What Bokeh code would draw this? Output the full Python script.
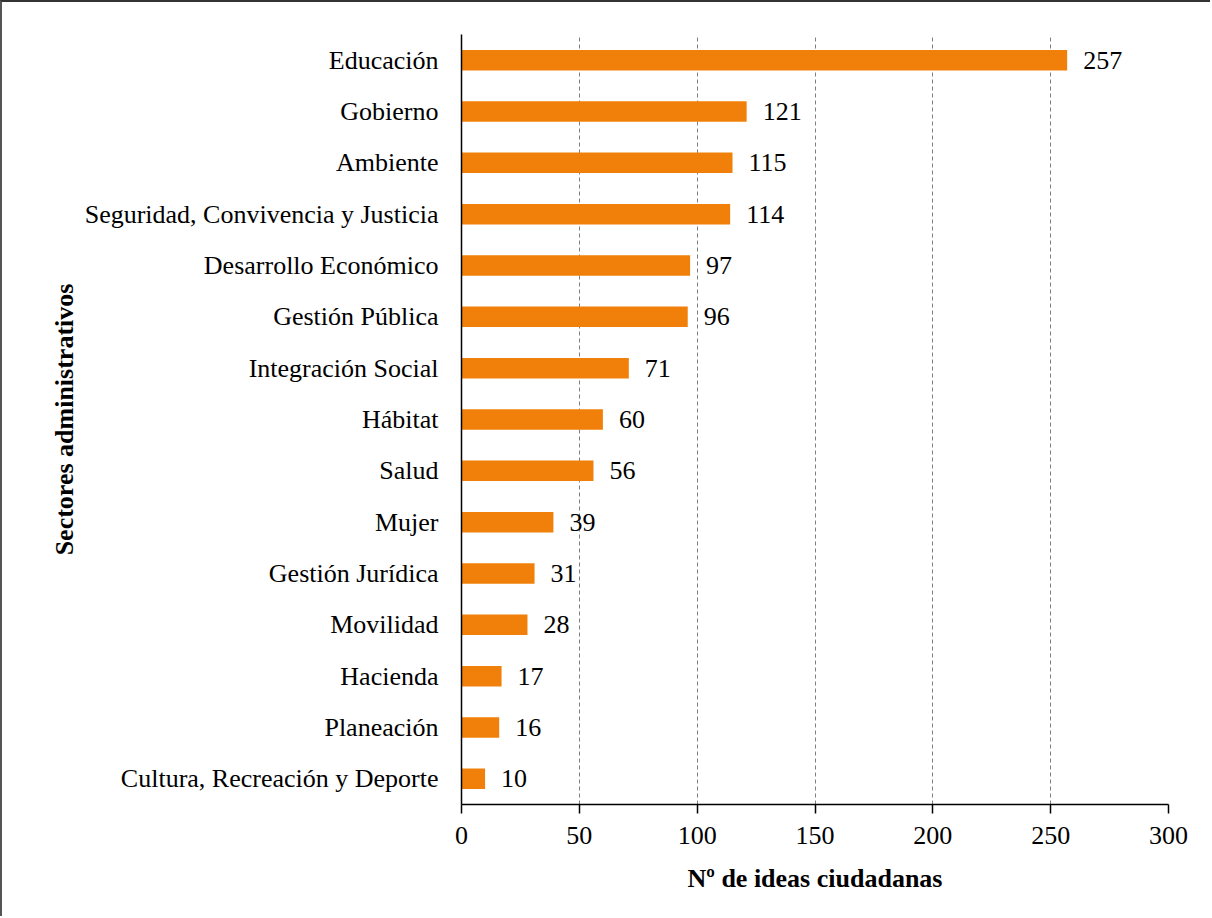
from bokeh.plotting import figure
from bokeh.models import FactorRange, Range1d, ColumnDataSource, LabelSet, FixedTicker
from bokeh.embed import file_html
from bokeh.resources import INLINE

sectors = ["Educación", "Gobierno", "Ambiente", "Seguridad, Convivencia y Justicia",
           "Desarrollo Económico", "Gestión Pública", "Integración Social", "Hábitat",
           "Salud", "Mujer", "Gestión Jurídica", "Movilidad", "Hacienda", "Planeación",
           "Cultura, Recreación y Deporte"]
ideas = [257, 121, 115, 114, 97, 96, 71, 60, 56, 39, 31, 28, 17, 16, 10]
x_ticks = [0, 50, 100, 150, 200, 250, 300]

FONT = "Liberation Serif"

src = ColumnDataSource(dict(sector=sectors, ideas=ideas, lab=[str(v) for v in ideas]))

p = figure(width=1210, height=916, output_backend="svg", toolbar_location=None,
           y_range=FactorRange(factors=list(reversed(sectors)), range_padding=0),
           x_range=Range1d(0, 300),
           min_border_left=459, min_border_right=44, min_border_top=32, min_border_bottom=114)

p.hbar(y="sector", right="ideas", left=0, height=0.4, source=src,
       fill_color="#F08009", line_color=None)

p.add_layout(LabelSet(x="ideas", y="sector", text="lab", source=src, x_offset=16,
                      text_baseline="middle", text_align="left", text_font=FONT,
                      text_font_size="26px", text_color="#000000"))

p.outline_line_color = None
p.background_fill_color = "white"
p.border_fill_color = "white"

p.xaxis.ticker = FixedTicker(ticks=x_ticks)
p.xaxis.axis_label = "Nº de ideas ciudadanas"
p.yaxis.axis_label = "Sectores administrativos"
for ax in (p.xaxis, p.yaxis):
    ax.axis_line_color = "black"
    ax.axis_line_width = 1.5
    ax.major_label_text_font = FONT
    ax.major_label_text_font_size = "26px"
    ax.major_label_text_color = "black"
    ax.axis_label_text_font = FONT
    ax.axis_label_text_font_size = "26px"
    ax.axis_label_text_font_style = "bold"
    ax.axis_label_text_color = "black"
    ax.minor_tick_line_color = None

p.xaxis.major_tick_out = 9
p.xaxis.major_tick_in = 0
p.xaxis.major_tick_line_color = "black"
p.xaxis.major_tick_line_width = 1.5
p.xaxis.major_label_standoff = 13
p.xaxis.axis_label_standoff = 17

p.yaxis.major_tick_line_color = None
p.yaxis.major_label_standoff = 17
p.yaxis.axis_label_standoff = 3

p.xgrid.grid_line_color = "#7f7f7f"
p.xgrid.grid_line_dash = "4 3"
p.xgrid.grid_line_width = 1
p.ygrid.grid_line_color = None

p.styles = {"border-left": "2px solid #555555", "border-top": "2px solid #333333"}

open("out.html", "w").write(file_html(p, INLINE))
